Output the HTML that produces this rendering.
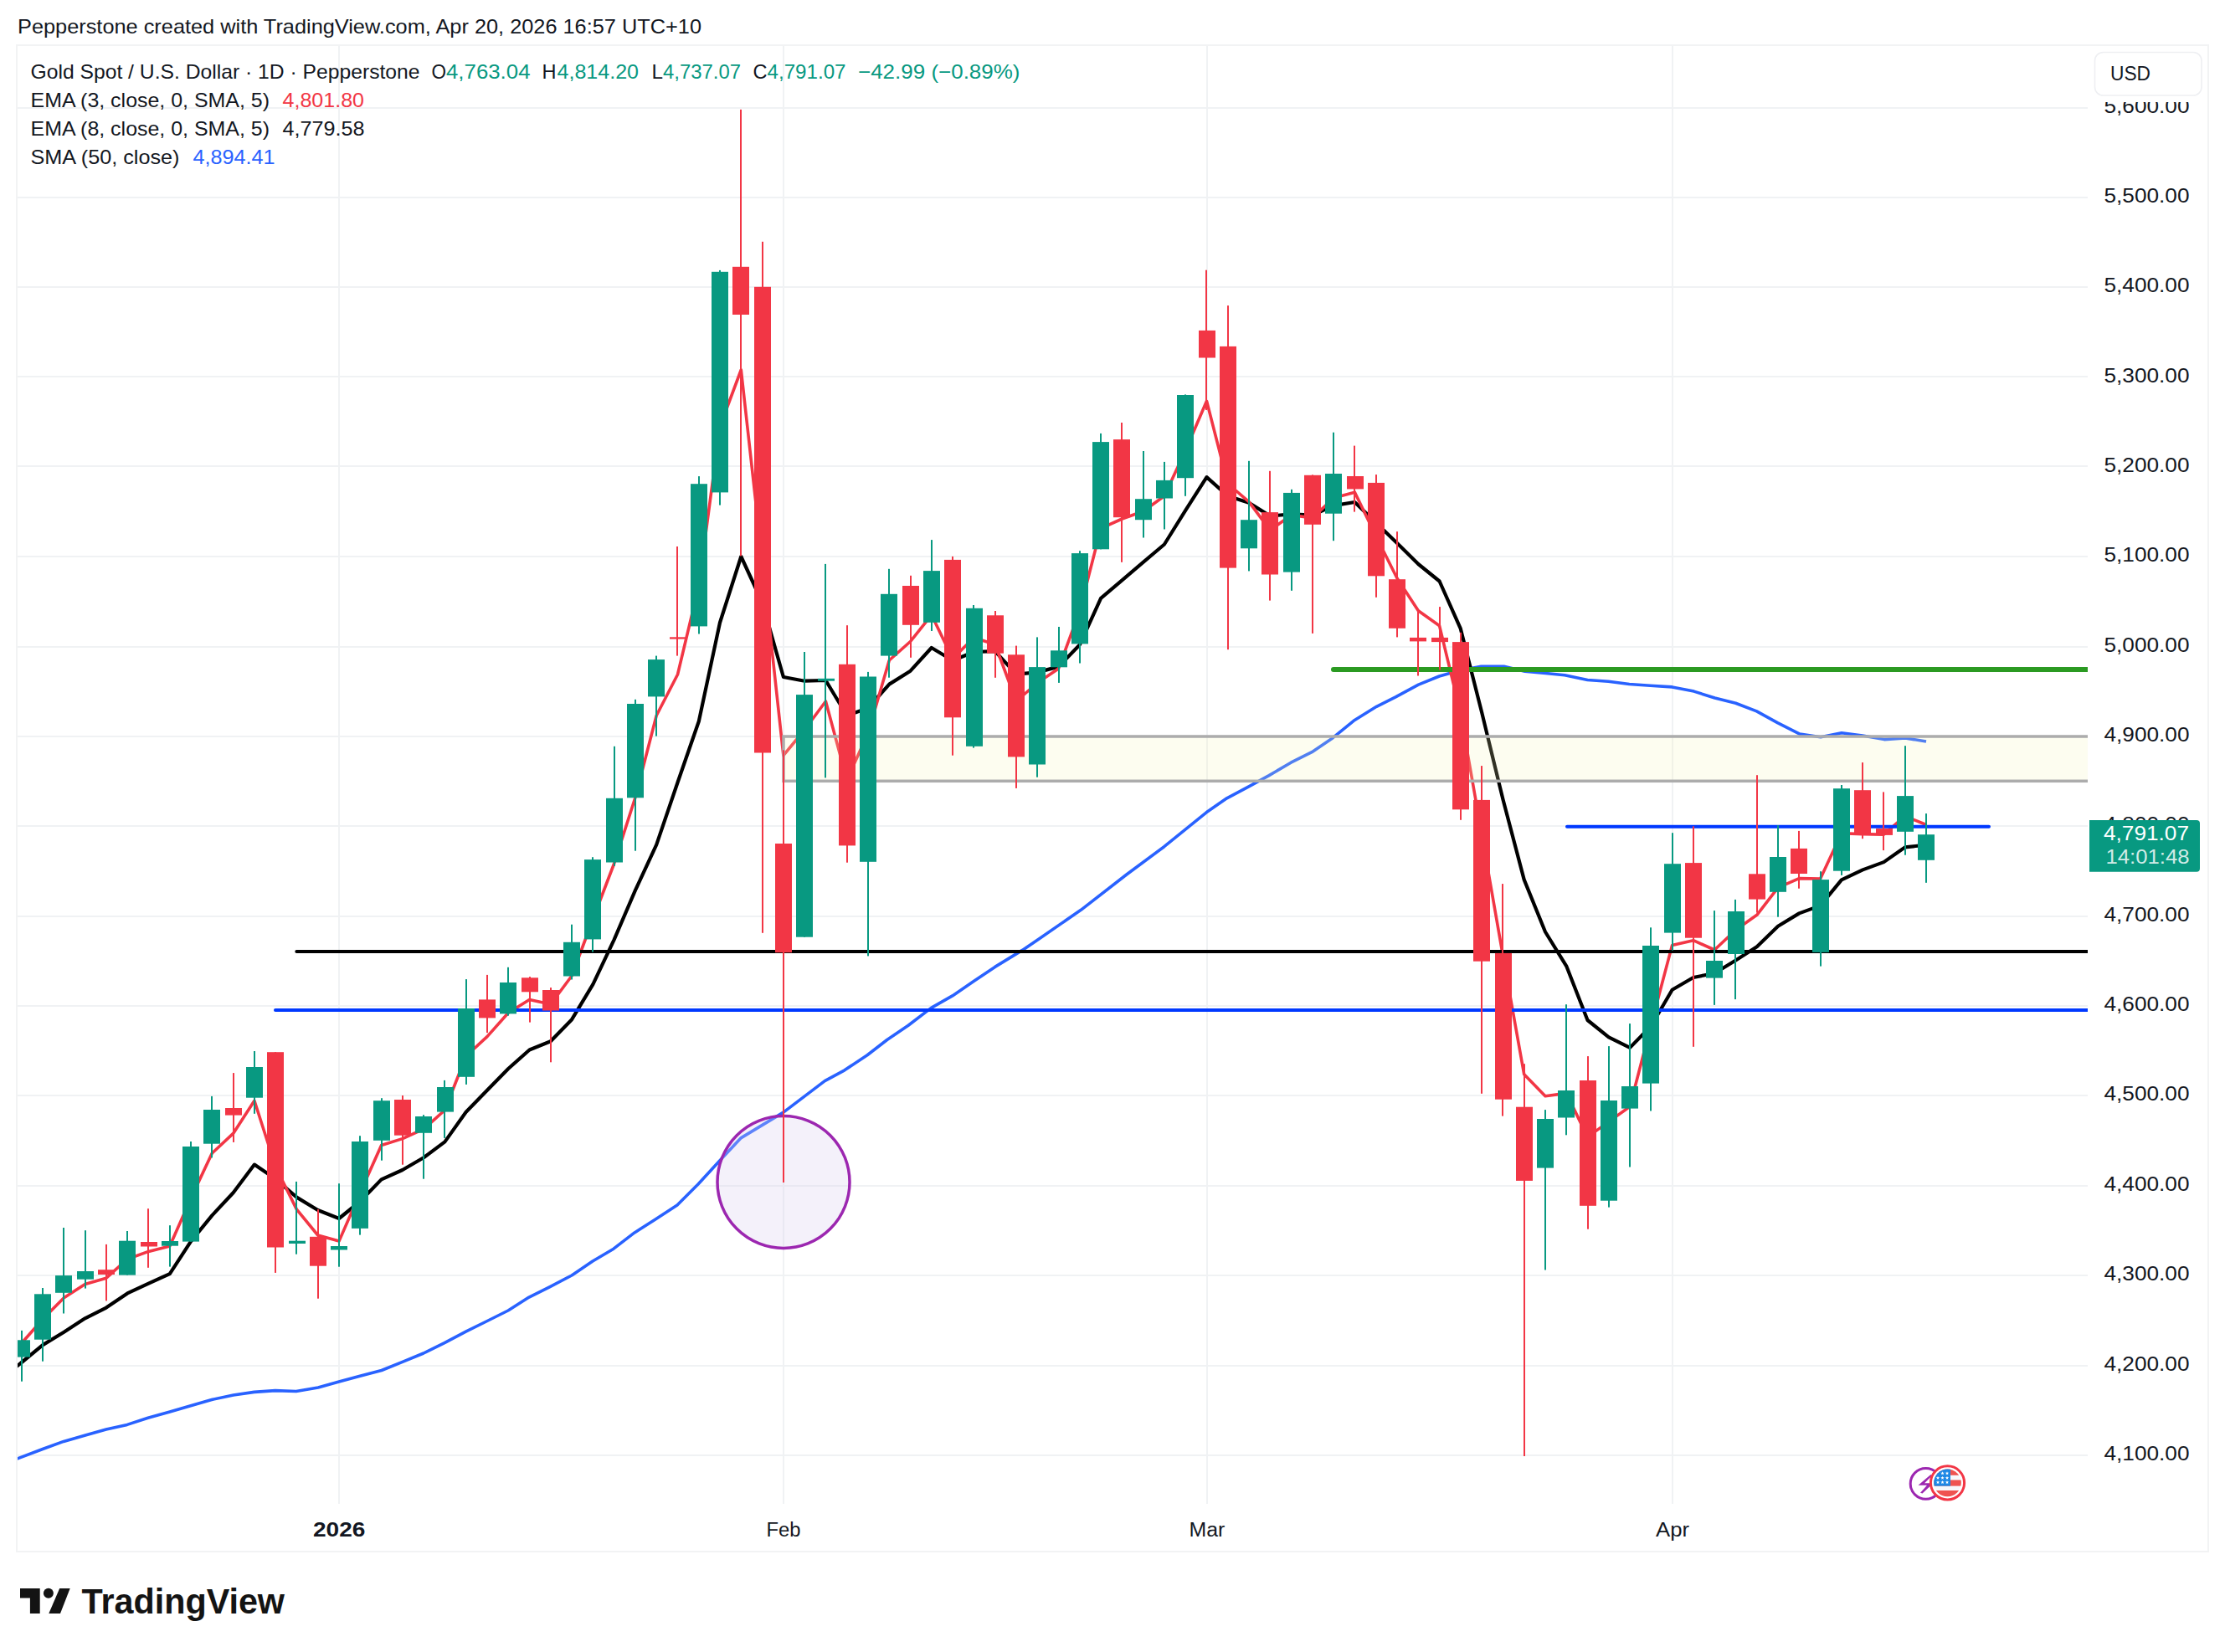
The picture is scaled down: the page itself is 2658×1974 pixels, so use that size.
<!DOCTYPE html><html><head><meta charset="utf-8"><title>XAUUSD chart</title>
<style>html,body{margin:0;padding:0;background:#fff;width:2658px;height:1974px;overflow:hidden}svg{position:absolute;left:0;top:0;display:block}text{font-family:"Liberation Sans",sans-serif}</style></head><body>
<svg width="2658" height="1974" viewBox="0 0 2658 1974">
<rect x="0" y="0" width="2658" height="1974" fill="#ffffff"/>
<text x="21" y="40" font-size="24" fill="#131722" textLength="817" lengthAdjust="spacingAndGlyphs">Pepperstone created with TradingView.com, Apr 20, 2026 16:57 UTC+10</text>
<rect x="20" y="54" width="2618" height="1800" fill="none" stroke="#f2f3f4" stroke-width="2"/>
<defs><clipPath id="pane"><rect x="21" y="55" width="2473" height="1742"/></clipPath><clipPath id="flag"><circle cx="2326.5" cy="1771.9" r="16.3"/></clipPath></defs>
<g clip-path="url(#pane)"><rect x="21" y="1738" width="2473" height="2" fill="#f0f2f4"/><rect x="21" y="1631" width="2473" height="2" fill="#f0f2f4"/><rect x="21" y="1523" width="2473" height="2" fill="#f0f2f4"/><rect x="21" y="1416" width="2473" height="2" fill="#f0f2f4"/><rect x="21" y="1308" width="2473" height="2" fill="#f0f2f4"/><rect x="21" y="1201" width="2473" height="2" fill="#f0f2f4"/><rect x="21" y="1094" width="2473" height="2" fill="#f0f2f4"/><rect x="21" y="986" width="2473" height="2" fill="#f0f2f4"/><rect x="21" y="879" width="2473" height="2" fill="#f0f2f4"/><rect x="21" y="772" width="2473" height="2" fill="#f0f2f4"/><rect x="21" y="664" width="2473" height="2" fill="#f0f2f4"/><rect x="21" y="556" width="2473" height="2" fill="#f0f2f4"/><rect x="21" y="449" width="2473" height="2" fill="#f0f2f4"/><rect x="21" y="342" width="2473" height="2" fill="#f0f2f4"/><rect x="21" y="235" width="2473" height="2" fill="#f0f2f4"/><rect x="21" y="128" width="2473" height="2" fill="#f0f2f4"/><rect x="404" y="55" width="2" height="1742" fill="#f0f2f4"/><rect x="935" y="55" width="2" height="1742" fill="#f0f2f4"/><rect x="1441" y="55" width="2" height="1742" fill="#f0f2f4"/><rect x="1997" y="55" width="2" height="1742" fill="#f0f2f4"/>
<polyline fill="none" stroke="#2962FF" stroke-width="3.6" stroke-linejoin="round" points="0,1751 20,1743.3 51,1731.5 76,1722.4 102,1715.1 126.8,1707.9 151.9,1702.4 176.8,1694.3 202.9,1687 227.8,1679.7 252.9,1672.5 278.8,1667 303.7,1663.4 328.9,1661.6 353.8,1662.5 380,1658 405,1651 430,1644.3 455.8,1637.5 480.8,1627.3 506,1617 531,1604.6 557,1590.9 582,1578.5 607,1566 632,1550.1 657,1537.6 683,1524 708,1507 733,1492.2 758,1472.9 783,1457 809,1440 834,1415 859,1387.8 885.4,1359.6 935.9,1329.1 985.3,1291.6 1008.9,1278.8 1036.1,1260.7 1059.7,1242.5 1085.1,1225.3 1112.4,1204.4 1137.8,1189.9 1163.2,1172.6 1188.6,1155.4 1221.3,1135.4 1240,1122.7 1291.3,1087.3 1345.8,1045 1390.7,1011.7 1441.1,970.8 1465.6,953.8 1492.3,939.6 1516,926.6 1542.2,911.2 1567.2,898.7 1592.2,881.7 1617.1,861.3 1644.4,844.3 1667.2,832.9 1694.5,818.2 1719.4,808 1744.4,801.1 1769.4,796.2 1796.6,796.2 1821.6,802.3 1846.5,804.5 1869.2,806.8 1896.5,812.5 1921.4,814.3 1946.4,817.5 1971.4,819.3 1997.5,820.9 2023.6,826.1 2048.5,834 2073.5,840.2 2098.5,849.9 2123.4,863.6 2150,877.1 2175,880.8 2200,875.8 2225,879 2251,883.6 2276,881.9 2301,886"/>
<polyline fill="none" stroke="#000000" stroke-width="4.2" stroke-linejoin="round" points="0,1649 25.8,1628 51.1,1607.1 76.4,1591.7 101.6,1575.3 126.9,1562.6 152.2,1545.4 177.5,1533.6 202.8,1522.1 228,1483.3 253.3,1452.4 278.6,1425.2 303.9,1391.6 329.2,1408.8 354.4,1430.6 379.7,1446 405,1456 430.3,1435.5 455.6,1409.4 480.8,1398 506.1,1383.3 531.4,1364.4 556.7,1328.8 582,1302.7 607.2,1277 632.5,1254.5 657.8,1244.3 683.1,1218.2 708.4,1176.2 733.6,1122.9 758.9,1063.9 784.2,1009.4 809.5,935 834.8,862 860,744 885.3,665 910.6,720 935.9,809 961.2,813.7 986.4,813 1011.7,855 1037,846 1062.3,817.6 1087.6,801.7 1112.8,774 1138.1,789.2 1163.4,779 1188.7,778.2 1214,805.7 1239.2,803.4 1264.5,796.6 1289.8,770.5 1315.1,714.9 1340.4,693.3 1365.6,671.8 1390.9,650.5 1416.2,609.8 1441.5,570.1 1466.8,592.8 1492,600.7 1517.3,616.6 1542.6,614.3 1567.9,615.5 1593.2,604.1 1618.4,600 1643.7,624.6 1669,649.1 1694.3,674 1719.6,694.5 1744.8,751.2 1770.1,851.1 1795.4,955 1820.7,1051.1 1846,1113.5 1871.2,1154.3 1896.5,1219 1921.8,1239.4 1947.1,1251.9 1972.4,1226 1997.6,1182.7 2022.9,1168 2048.2,1163 2073.5,1147.5 2098.8,1131.2 2124,1106.7 2149.3,1091.4 2174.6,1082.1 2199.9,1051.4 2225.2,1039.4 2250.4,1030.1 2275.7,1012.4 2301,1009.6"/>
<polyline fill="none" stroke="#F23645" stroke-width="3.6" stroke-linejoin="round" points="0,1630 25.8,1605 51.1,1576.2 76.4,1550.8 101.6,1534.5 126.9,1527.2 152.2,1504.5 177.5,1495.4 202.8,1489 228,1432 253.3,1378 278.6,1354.4 303.9,1315.3 329.2,1394.3 354.4,1445.1 379.7,1476 405,1483.1 430.3,1425 455.6,1368.5 480.8,1360.6 506.1,1349.2 531.4,1326.5 556.7,1262 582,1238.6 607.2,1210.3 632.5,1194.4 657.8,1200 683.1,1166 708.4,1098 733.6,1032 758.9,953 784.2,855 809.5,806 834.8,700 860,510 885.3,442 910.6,670 935.9,902.7 961.2,872 986.4,838 1011.7,932 1037,876 1062.3,789 1087.6,766.5 1112.8,734.8 1138.1,787 1163.4,762 1188.7,770 1214,838 1239.2,816 1264.5,799 1289.8,730 1315.1,631.4 1340.4,620 1365.6,611 1390.9,592.8 1416.2,538.3 1441.5,479.3 1466.8,578 1492,599.6 1517.3,633.6 1542.6,615.5 1567.9,618.9 1593.2,595 1618.4,588.2 1643.7,640.5 1669,691 1694.3,729.7 1719.6,747.8 1744.8,852.4 1770.1,997 1795.4,1141.9 1820.7,1283.7 1846,1309.8 1871.2,1306.4 1896.5,1358.6 1921.8,1340.4 1947.1,1322.3 1972.4,1224.7 1997.6,1129.4 2022.9,1123.7 2048.2,1135 2073.5,1111.2 2098.8,1093.3 2124,1060.7 2149.3,1049.6 2174.6,1050 2199.9,995.7 2225.2,996.6 2250.4,997.2 2275.7,975.2 2301,985.5"/>
<rect x="936" y="880" width="1600" height="53.3" fill="rgba(245,245,180,0.2)" stroke="#acacac" stroke-width="3.5"/>
<line x1="1593" y1="800" x2="2600" y2="800" stroke="#2b9a22" stroke-width="6" stroke-linecap="round"/>
<line x1="1872" y1="987.7" x2="2376" y2="987.7" stroke="#0038ff" stroke-width="4" stroke-linecap="round"/>
<line x1="354.3" y1="1137" x2="2600" y2="1137" stroke="#000000" stroke-width="4" stroke-linecap="round"/>
<line x1="329" y1="1207" x2="2600" y2="1207" stroke="#0038ff" stroke-width="4" stroke-linecap="round"/>
<circle cx="936" cy="1412.5" r="79" fill="rgba(220,210,240,0.3)" stroke="#9c27b0" stroke-width="3.5"/>
<rect x="25" y="1589.9" width="2" height="60.8" fill="#089981"/><rect x="16" y="1601.3" width="20" height="20.3" fill="#089981"/><rect x="50" y="1539" width="2" height="87.7" fill="#089981"/><rect x="41" y="1546.3" width="20" height="54.4" fill="#089981"/><rect x="75" y="1467" width="2" height="102.5" fill="#089981"/><rect x="66" y="1524.1" width="20" height="20.7" fill="#089981"/><rect x="101" y="1470.2" width="2" height="69.4" fill="#089981"/><rect x="92" y="1519" width="20" height="9.7" fill="#089981"/><rect x="126" y="1486.9" width="2" height="67.5" fill="#F23645"/><rect x="117" y="1517.2" width="20" height="5.8" fill="#F23645"/><rect x="151" y="1471" width="2" height="52.6" fill="#089981"/><rect x="142" y="1482.7" width="20" height="40.9" fill="#089981"/><rect x="176" y="1444.2" width="2" height="70.6" fill="#F23645"/><rect x="168" y="1484" width="20" height="5.5" fill="#F23645"/><rect x="202" y="1464.2" width="2" height="49.4" fill="#089981"/><rect x="193" y="1483" width="20" height="5.7" fill="#089981"/><rect x="227" y="1364" width="2" height="119.6" fill="#089981"/><rect x="218" y="1370" width="20" height="113.6" fill="#089981"/><rect x="252" y="1309.9" width="2" height="73.5" fill="#089981"/><rect x="243" y="1326" width="20" height="40.7" fill="#089981"/><rect x="278" y="1282.1" width="2" height="82.8" fill="#F23645"/><rect x="269" y="1324" width="20" height="8.6" fill="#F23645"/><rect x="303" y="1256" width="2" height="74.8" fill="#089981"/><rect x="294" y="1275" width="20" height="36.7" fill="#089981"/><rect x="328" y="1257.2" width="2" height="263.7" fill="#F23645"/><rect x="319" y="1257.2" width="20" height="233.3" fill="#F23645"/><rect x="353" y="1411.9" width="2" height="86.8" fill="#089981"/><rect x="345" y="1482.7" width="20" height="3.3" fill="#089981"/><rect x="379" y="1445.1" width="2" height="106.6" fill="#F23645"/><rect x="370" y="1477.8" width="20" height="34.9" fill="#F23645"/><rect x="404" y="1414.2" width="2" height="99.5" fill="#089981"/><rect x="395" y="1489" width="20" height="4.5" fill="#089981"/><rect x="429" y="1357.2" width="2" height="118.4" fill="#089981"/><rect x="420" y="1364" width="20" height="103.9" fill="#089981"/><rect x="455" y="1312.2" width="2" height="74.5" fill="#089981"/><rect x="446" y="1315.2" width="20" height="47.6" fill="#089981"/><rect x="480" y="1309" width="2" height="82.7" fill="#F23645"/><rect x="471" y="1314" width="20" height="42.7" fill="#F23645"/><rect x="505" y="1332.2" width="2" height="76.5" fill="#089981"/><rect x="496" y="1334" width="20" height="19.8" fill="#089981"/><rect x="530" y="1290.9" width="2" height="69" fill="#089981"/><rect x="522" y="1299" width="20" height="29.6" fill="#089981"/><rect x="556" y="1170.1" width="2" height="125.8" fill="#089981"/><rect x="547" y="1205" width="20" height="81.8" fill="#089981"/><rect x="581" y="1164.9" width="2" height="69.2" fill="#F23645"/><rect x="572" y="1194.4" width="20" height="22" fill="#F23645"/><rect x="606" y="1155.8" width="2" height="57.9" fill="#089981"/><rect x="597" y="1174" width="20" height="37.4" fill="#089981"/><rect x="632" y="1167.1" width="2" height="54.5" fill="#F23645"/><rect x="623" y="1168.3" width="20" height="17" fill="#F23645"/><rect x="657" y="1180.1" width="2" height="89.2" fill="#F23645"/><rect x="648" y="1183" width="20" height="24.5" fill="#F23645"/><rect x="682" y="1104.7" width="2" height="65.8" fill="#089981"/><rect x="673" y="1125.8" width="20" height="40.7" fill="#089981"/><rect x="707" y="1024.2" width="2" height="113.4" fill="#089981"/><rect x="698" y="1027.1" width="20" height="95.3" fill="#089981"/><rect x="733" y="891.8" width="2" height="143" fill="#089981"/><rect x="724" y="953.8" width="20" height="76.7" fill="#089981"/><rect x="758" y="835.8" width="2" height="180.9" fill="#089981"/><rect x="749" y="841" width="20" height="112.3" fill="#089981"/><rect x="783" y="783.6" width="2" height="96" fill="#089981"/><rect x="774" y="788.1" width="20" height="44.3" fill="#089981"/><rect x="808" y="653" width="2" height="130.6" fill="#F23645"/><rect x="800" y="761.3" width="20" height="2.3" fill="#F23645"/><rect x="834" y="569.1" width="2" height="188.4" fill="#089981"/><rect x="825" y="578.2" width="20" height="170.2" fill="#089981"/><rect x="859" y="322.9" width="2" height="280.7" fill="#089981"/><rect x="850" y="324.8" width="20" height="263.6" fill="#089981"/><rect x="884" y="130.9" width="2" height="533.5" fill="#F23645"/><rect x="875" y="318.8" width="20" height="57.2" fill="#F23645"/><rect x="910" y="288.8" width="2" height="826" fill="#F23645"/><rect x="901" y="342.8" width="20" height="556.7" fill="#F23645"/><rect x="935" y="896.3" width="2" height="516.7" fill="#F23645"/><rect x="926" y="1008" width="20" height="130.2" fill="#F23645"/><rect x="960" y="779" width="2" height="340.7" fill="#089981"/><rect x="951" y="830.1" width="20" height="289.6" fill="#089981"/><rect x="985" y="673.9" width="2" height="255.5" fill="#089981"/><rect x="977" y="810.8" width="20" height="2.9" fill="#089981"/><rect x="1011" y="747.2" width="2" height="283.5" fill="#F23645"/><rect x="1002" y="793.8" width="20" height="216.6" fill="#F23645"/><rect x="1036" y="802.9" width="2" height="339.5" fill="#089981"/><rect x="1027" y="808.5" width="20" height="221.3" fill="#089981"/><rect x="1061" y="679.8" width="2" height="129.9" fill="#089981"/><rect x="1052" y="709.8" width="20" height="73.8" fill="#089981"/><rect x="1087" y="687.8" width="2" height="98" fill="#F23645"/><rect x="1078" y="700" width="20" height="46.8" fill="#F23645"/><rect x="1112" y="645.1" width="2" height="108.9" fill="#089981"/><rect x="1103" y="682.1" width="20" height="61.7" fill="#089981"/><rect x="1137" y="664.9" width="2" height="237.8" fill="#F23645"/><rect x="1128" y="668.9" width="20" height="188.4" fill="#F23645"/><rect x="1162" y="723" width="2" height="170.6" fill="#089981"/><rect x="1154" y="726.8" width="20" height="165" fill="#089981"/><rect x="1188" y="730" width="2" height="79.8" fill="#F23645"/><rect x="1179" y="735.3" width="20" height="45.4" fill="#F23645"/><rect x="1213" y="771.6" width="2" height="170.3" fill="#F23645"/><rect x="1204" y="782.3" width="20" height="122.1" fill="#F23645"/><rect x="1238" y="761.4" width="2" height="167.3" fill="#089981"/><rect x="1229" y="797.1" width="20" height="116.4" fill="#089981"/><rect x="1264" y="749" width="2" height="66.9" fill="#089981"/><rect x="1255" y="777.3" width="20" height="20" fill="#089981"/><rect x="1289" y="658.2" width="2" height="134.3" fill="#089981"/><rect x="1280" y="661.1" width="20" height="108.3" fill="#089981"/><rect x="1314" y="517.9" width="2" height="138.4" fill="#089981"/><rect x="1305" y="528.1" width="20" height="128.2" fill="#089981"/><rect x="1339" y="505" width="2" height="166.8" fill="#F23645"/><rect x="1330" y="525.1" width="20" height="93.1" fill="#F23645"/><rect x="1365" y="539" width="2" height="103.5" fill="#089981"/><rect x="1356" y="596.2" width="20" height="25" fill="#089981"/><rect x="1390" y="551.9" width="2" height="80.6" fill="#089981"/><rect x="1381" y="573.9" width="20" height="21.6" fill="#089981"/><rect x="1415" y="471.4" width="2" height="121.4" fill="#089981"/><rect x="1406" y="472" width="20" height="99.2" fill="#089981"/><rect x="1440" y="322.7" width="2" height="167.3" fill="#F23645"/><rect x="1432" y="394.9" width="20" height="32.6" fill="#F23645"/><rect x="1466" y="365.1" width="2" height="411.1" fill="#F23645"/><rect x="1457" y="413.9" width="20" height="264.7" fill="#F23645"/><rect x="1491" y="550.8" width="2" height="131.6" fill="#089981"/><rect x="1482" y="621.2" width="20" height="34.1" fill="#089981"/><rect x="1516" y="562.8" width="2" height="154.8" fill="#F23645"/><rect x="1507" y="612.1" width="20" height="74.4" fill="#F23645"/><rect x="1542" y="584.8" width="2" height="121" fill="#089981"/><rect x="1533" y="588.9" width="20" height="94.7" fill="#089981"/><rect x="1567" y="567.4" width="2" height="189.5" fill="#F23645"/><rect x="1558" y="567.8" width="20" height="59" fill="#F23645"/><rect x="1592" y="516.7" width="2" height="129.5" fill="#089981"/><rect x="1583" y="566" width="20" height="47.7" fill="#089981"/><rect x="1617" y="532.6" width="2" height="79" fill="#F23645"/><rect x="1609" y="569" width="20" height="15.4" fill="#F23645"/><rect x="1643" y="567.1" width="2" height="146.7" fill="#F23645"/><rect x="1634" y="576.9" width="20" height="111.4" fill="#F23645"/><rect x="1668" y="635.2" width="2" height="126.2" fill="#F23645"/><rect x="1659" y="692.2" width="20" height="58.6" fill="#F23645"/><rect x="1693" y="730.8" width="2" height="76.7" fill="#F23645"/><rect x="1684" y="761.9" width="20" height="4.5" fill="#F23645"/><rect x="1719" y="725.1" width="2" height="75.4" fill="#F23645"/><rect x="1710" y="761.9" width="20" height="5.2" fill="#F23645"/><rect x="1744" y="755.8" width="2" height="224" fill="#F23645"/><rect x="1735" y="767.1" width="20" height="200.2" fill="#F23645"/><rect x="1769" y="915.1" width="2" height="391.7" fill="#F23645"/><rect x="1760" y="955.9" width="20" height="192.8" fill="#F23645"/><rect x="1794" y="1056.1" width="2" height="277.5" fill="#F23645"/><rect x="1786" y="1138.9" width="20" height="174.8" fill="#F23645"/><rect x="1820" y="1271.2" width="2" height="468.8" fill="#F23645"/><rect x="1811" y="1322.7" width="20" height="88.2" fill="#F23645"/><rect x="1845" y="1326.1" width="2" height="191.4" fill="#089981"/><rect x="1836" y="1337" width="20" height="58.6" fill="#089981"/><rect x="1870" y="1200.2" width="2" height="156.1" fill="#089981"/><rect x="1861" y="1303" width="20" height="32.5" fill="#089981"/><rect x="1896" y="1262.1" width="2" height="206.6" fill="#F23645"/><rect x="1887" y="1291" width="20" height="149.8" fill="#F23645"/><rect x="1921" y="1250.1" width="2" height="192.5" fill="#089981"/><rect x="1912" y="1315" width="20" height="119.7" fill="#089981"/><rect x="1946" y="1223.1" width="2" height="171.4" fill="#089981"/><rect x="1937" y="1298" width="20" height="26.6" fill="#089981"/><rect x="1971" y="1108.3" width="2" height="219.2" fill="#089981"/><rect x="1962" y="1130" width="20" height="164.6" fill="#089981"/><rect x="1997" y="995.2" width="2" height="140.5" fill="#089981"/><rect x="1988" y="1032.2" width="20" height="82.4" fill="#089981"/><rect x="2022" y="987.3" width="2" height="263.5" fill="#F23645"/><rect x="2013" y="1031.1" width="20" height="89.6" fill="#F23645"/><rect x="2047" y="1088.1" width="2" height="112.8" fill="#089981"/><rect x="2038" y="1148" width="20" height="20.6" fill="#089981"/><rect x="2072" y="1074.9" width="2" height="119.2" fill="#089981"/><rect x="2064" y="1089" width="20" height="51" fill="#089981"/><rect x="2098" y="926.2" width="2" height="164.4" fill="#F23645"/><rect x="2089" y="1044.3" width="20" height="30.3" fill="#F23645"/><rect x="2123" y="986.2" width="2" height="109.5" fill="#089981"/><rect x="2114" y="1024" width="20" height="41.8" fill="#089981"/><rect x="2148" y="992.9" width="2" height="68.8" fill="#F23645"/><rect x="2139" y="1013.9" width="20" height="30.1" fill="#F23645"/><rect x="2174" y="1041.2" width="2" height="113.4" fill="#089981"/><rect x="2165" y="1051.1" width="20" height="86.8" fill="#089981"/><rect x="2199" y="938" width="2" height="107.9" fill="#089981"/><rect x="2190" y="942.2" width="20" height="98.5" fill="#089981"/><rect x="2224" y="911.1" width="2" height="91.1" fill="#F23645"/><rect x="2215" y="944.2" width="20" height="51.5" fill="#F23645"/><rect x="2249" y="946.4" width="2" height="69.7" fill="#F23645"/><rect x="2241" y="990.1" width="20" height="7.8" fill="#F23645"/><rect x="2275" y="891.2" width="2" height="130.5" fill="#089981"/><rect x="2266" y="951.1" width="20" height="42.7" fill="#089981"/><rect x="2300" y="972.1" width="2" height="82.7" fill="#089981"/><rect x="2291" y="997.2" width="20" height="30.6" fill="#089981"/>
<circle cx="2300.6" cy="1772.9" r="18.4" fill="#ffffff" stroke="#9c27b0" stroke-width="3"/>
<path d="M2306.5 1762 L2291.5 1774.8 L2302 1774.8 L2294 1783.8 L2296.5 1784.6 L2309.5 1772.2 L2299 1772.2 L2308 1763.2 Z" fill="#9c27b0"/>
<circle cx="2326.5" cy="1771.9" r="20.1" fill="#ffffff" stroke="#F23645" stroke-width="3"/>
<g clip-path="url(#flag)"><rect x="2308" y="1754" width="40" height="36" fill="#f7f8fb"/><rect x="2308" y="1754" width="40" height="8.8" fill="#ef5350"/><rect x="2308" y="1768.5" width="40" height="7.1" fill="#ef5350"/><rect x="2308" y="1781" width="40" height="9" fill="#ef5350"/><rect x="2308" y="1754" width="22" height="21.6" fill="#1e88e5"/></g>
<polygon points="2320.50,1758.20 2321.09,1759.69 2322.69,1759.79 2321.45,1760.81 2321.85,1762.36 2320.50,1761.50 2319.15,1762.36 2319.55,1760.81 2318.31,1759.79 2319.91,1759.69" fill="#ffffff"/><polygon points="2326.00,1758.20 2326.59,1759.69 2328.19,1759.79 2326.95,1760.81 2327.35,1762.36 2326.00,1761.50 2324.65,1762.36 2325.05,1760.81 2323.81,1759.79 2325.41,1759.69" fill="#ffffff"/><polygon points="2315.00,1763.70 2315.59,1765.19 2317.19,1765.29 2315.95,1766.31 2316.35,1767.86 2315.00,1767.00 2313.65,1767.86 2314.05,1766.31 2312.81,1765.29 2314.41,1765.19" fill="#ffffff"/><polygon points="2320.50,1763.70 2321.09,1765.19 2322.69,1765.29 2321.45,1766.31 2321.85,1767.86 2320.50,1767.00 2319.15,1767.86 2319.55,1766.31 2318.31,1765.29 2319.91,1765.19" fill="#ffffff"/><polygon points="2326.00,1763.70 2326.59,1765.19 2328.19,1765.29 2326.95,1766.31 2327.35,1767.86 2326.00,1767.00 2324.65,1767.86 2325.05,1766.31 2323.81,1765.29 2325.41,1765.19" fill="#ffffff"/><polygon points="2315.00,1768.90 2315.59,1770.39 2317.19,1770.49 2315.95,1771.51 2316.35,1773.06 2315.00,1772.20 2313.65,1773.06 2314.05,1771.51 2312.81,1770.49 2314.41,1770.39" fill="#ffffff"/><polygon points="2320.50,1768.90 2321.09,1770.39 2322.69,1770.49 2321.45,1771.51 2321.85,1773.06 2320.50,1772.20 2319.15,1773.06 2319.55,1771.51 2318.31,1770.49 2319.91,1770.39" fill="#ffffff"/><polygon points="2326.00,1768.90 2326.59,1770.39 2328.19,1770.49 2326.95,1771.51 2327.35,1773.06 2326.00,1772.20 2324.65,1773.06 2325.05,1771.51 2323.81,1770.49 2325.41,1770.39" fill="#ffffff"/>
</g>
<text x="2615.5" y="1744.9" font-size="24" fill="#131722" text-anchor="end" textLength="102" lengthAdjust="spacingAndGlyphs">4,100.00</text><text x="2615.5" y="1637.9" font-size="24" fill="#131722" text-anchor="end" textLength="102" lengthAdjust="spacingAndGlyphs">4,200.00</text><text x="2615.5" y="1529.9" font-size="24" fill="#131722" text-anchor="end" textLength="102" lengthAdjust="spacingAndGlyphs">4,300.00</text><text x="2615.5" y="1422.9" font-size="24" fill="#131722" text-anchor="end" textLength="102" lengthAdjust="spacingAndGlyphs">4,400.00</text><text x="2615.5" y="1315.1" font-size="24" fill="#131722" text-anchor="end" textLength="102" lengthAdjust="spacingAndGlyphs">4,500.00</text><text x="2615.5" y="1208.3" font-size="24" fill="#131722" text-anchor="end" textLength="102" lengthAdjust="spacingAndGlyphs">4,600.00</text><text x="2615.5" y="1100.9" font-size="24" fill="#131722" text-anchor="end" textLength="102" lengthAdjust="spacingAndGlyphs">4,700.00</text><text x="2615.5" y="992.9" font-size="24" fill="#131722" text-anchor="end" textLength="102" lengthAdjust="spacingAndGlyphs">4,800.00</text><text x="2615.5" y="886.1" font-size="24" fill="#131722" text-anchor="end" textLength="102" lengthAdjust="spacingAndGlyphs">4,900.00</text><text x="2615.5" y="778.9" font-size="24" fill="#131722" text-anchor="end" textLength="102" lengthAdjust="spacingAndGlyphs">5,000.00</text><text x="2615.5" y="670.9" font-size="24" fill="#131722" text-anchor="end" textLength="102" lengthAdjust="spacingAndGlyphs">5,100.00</text><text x="2615.5" y="563.5" font-size="24" fill="#131722" text-anchor="end" textLength="102" lengthAdjust="spacingAndGlyphs">5,200.00</text><text x="2615.5" y="456.6" font-size="24" fill="#131722" text-anchor="end" textLength="102" lengthAdjust="spacingAndGlyphs">5,300.00</text><text x="2615.5" y="348.8" font-size="24" fill="#131722" text-anchor="end" textLength="102" lengthAdjust="spacingAndGlyphs">5,400.00</text><text x="2615.5" y="241.6" font-size="24" fill="#131722" text-anchor="end" textLength="102" lengthAdjust="spacingAndGlyphs">5,500.00</text><text x="2615.5" y="135.4" font-size="24" fill="#131722" text-anchor="end" textLength="102" lengthAdjust="spacingAndGlyphs">5,600.00</text>
<rect x="2494" y="55" width="143" height="67" fill="#ffffff"/>
<rect x="2502.5" y="62.5" width="127.5" height="51.5" rx="10" fill="#ffffff" stroke="#eeeff2" stroke-width="1.6"/>
<text x="2521" y="96.4" font-size="24" fill="#131722" textLength="48" lengthAdjust="spacingAndGlyphs">USD</text>
<path d="M2496 980 H2624 Q2628 980 2628 984 V1037.8 Q2628 1041.8 2624 1041.8 H2496 Z" fill="#089981"/>
<text x="2615" y="1003.8" font-size="24" fill="#ffffff" text-anchor="end" textLength="102" lengthAdjust="spacingAndGlyphs">4,791.07</text>
<text x="2615.5" y="1031.8" font-size="24" fill="rgba(255,255,255,0.82)" text-anchor="end" textLength="100" lengthAdjust="spacingAndGlyphs">14:01:48</text>
<text x="36.5" y="94.2" font-size="24" fill="#131722" textLength="465" lengthAdjust="spacingAndGlyphs">Gold Spot / U.S. Dollar · 1D · Pepperstone</text><text x="515.5" y="94.2" font-size="24" fill="#131722" textLength="17.5" lengthAdjust="spacingAndGlyphs">O</text><text x="533" y="94.2" font-size="24" fill="#089981" textLength="100.5" lengthAdjust="spacingAndGlyphs">4,763.04</text><text x="647.5" y="94.2" font-size="24" fill="#131722" textLength="17" lengthAdjust="spacingAndGlyphs">H</text><text x="665.5" y="94.2" font-size="24" fill="#089981" textLength="97.5" lengthAdjust="spacingAndGlyphs">4,814.20</text><text x="778.5" y="94.2" font-size="24" fill="#131722" textLength="13.5" lengthAdjust="spacingAndGlyphs">L</text><text x="792" y="94.2" font-size="24" fill="#089981" textLength="93" lengthAdjust="spacingAndGlyphs">4,737.07</text><text x="899.5" y="94.2" font-size="24" fill="#131722" textLength="17" lengthAdjust="spacingAndGlyphs">C</text><text x="916.5" y="94.2" font-size="24" fill="#089981" textLength="94" lengthAdjust="spacingAndGlyphs">4,791.07</text><text x="1025" y="94.2" font-size="24" fill="#089981" textLength="193.5" lengthAdjust="spacingAndGlyphs">−42.99 (−0.89%)</text><text x="36.5" y="127.8" font-size="24" fill="#131722" textLength="285.5" lengthAdjust="spacingAndGlyphs">EMA (3, close, 0, SMA, 5)</text><text x="337.5" y="127.8" font-size="24" fill="#F23645" textLength="97.5" lengthAdjust="spacingAndGlyphs">4,801.80</text><text x="36.5" y="161.7" font-size="24" fill="#131722" textLength="285.5" lengthAdjust="spacingAndGlyphs">EMA (8, close, 0, SMA, 5)</text><text x="337.5" y="161.7" font-size="24" fill="#131722" textLength="98" lengthAdjust="spacingAndGlyphs">4,779.58</text><text x="36.5" y="195.6" font-size="24" fill="#131722" textLength="178" lengthAdjust="spacingAndGlyphs">SMA (50, close)</text><text x="230.5" y="195.6" font-size="24" fill="#2962FF" textLength="98" lengthAdjust="spacingAndGlyphs">4,894.41</text>
<text x="374" y="1836" font-size="23" fill="#131722" textLength="62.5" lengthAdjust="spacingAndGlyphs" font-weight="bold">2026</text>
<text x="915.5" y="1836" font-size="23" fill="#131722" textLength="41" lengthAdjust="spacingAndGlyphs">Feb</text>
<text x="1420.5" y="1836" font-size="23" fill="#131722" textLength="42.8" lengthAdjust="spacingAndGlyphs">Mar</text>
<text x="1978" y="1836" font-size="23" fill="#131722" textLength="40" lengthAdjust="spacingAndGlyphs">Apr</text>
<path d="M24 1898 H47.7 V1928 H35.9 V1909.4 H24 Z" fill="#131313"/>
<circle cx="57.9" cy="1903.7" r="6" fill="#131313"/>
<path d="M71.2 1898 H83.7 L72 1928 H58.3 Z" fill="#131313"/>
<text x="97.5" y="1928" font-size="42" fill="#131313" textLength="242.5" lengthAdjust="spacingAndGlyphs" font-weight="bold">TradingView</text>
</svg></body></html>
